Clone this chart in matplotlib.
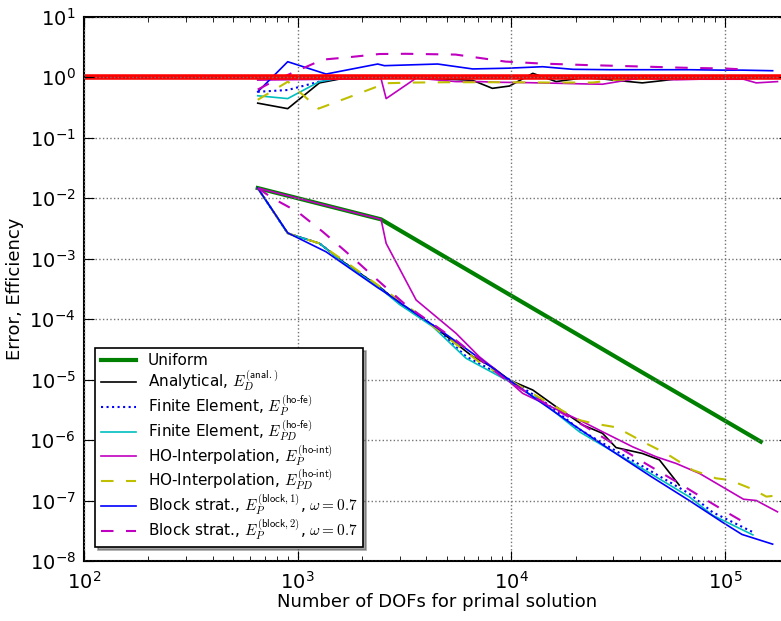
import numpy as np
import matplotlib
matplotlib.use("Agg")
import matplotlib.pyplot as plt

plt.rcParams["mathtext.fontset"] = "cm"
plt.rcParams["font.family"] = "DejaVu Sans"

# Uniform refinement
dofs_uni = [650, 2455, 9600, 37900, 147000]
err_uni = [1.46e-2, 4.44e-3, 2.64e-4, 1.54e-5, 9.4e-7]

# Analytical estimator (dual)
dofs_anal = [650, 898, 1264, 1630, 2410, 2990, 4285, 6590, 8150, 9800, 12600,
             16200, 21600, 26700, 30900, 41000, 49300, 61000]
err_anal = [1.46e-2, 2.61e-3, 1.78e-3, 8.85e-4, 3.42e-4, 1.82e-4, 7.8e-5, 2.4e-5,
            1.6e-5, 9.8e-6, 6.7e-6, 3.55e-6, 1.77e-6, 1.29e-6, 7.5e-7, 6.0e-7,
            4.7e-7, 1.8e-7]
eff_anal = [0.37, 0.30, 0.80, 0.95, 0.96, 0.96, 0.95, 0.88, 0.65, 0.71, 1.15,
            0.84, 0.97, 0.93, 0.88, 0.80, 0.86, 0.94]

# Finite element estimators (primal / primal-dual)
dofs_fe = [650, 898, 1264, 1630, 2410, 2990, 4285, 6140, 9800, 14000, 20800,
           30000, 44000, 68000, 87500, 135000]
err_fe_p = [1.46e-2, 2.61e-3, 1.78e-3, 8.8e-4, 3.4e-4, 1.8e-4, 7.9e-5, 2.4e-5,
            1.0e-5, 4.5e-6, 1.5e-6, 7.0e-7, 3.2e-7, 1.3e-7, 6.4e-8, 3.0e-8]
eff_fe_p = [0.57, 0.61, 0.84, 0.97, 0.98, 0.99, 0.98, 0.99, 0.98, 0.99, 0.99,
            1.0, 0.99, 0.99, 1.0, 0.99]
err_fe_pd = [1.46e-2, 2.61e-3, 1.78e-3, 8.6e-4, 3.3e-4, 1.75e-4, 7.5e-5, 2.24e-5,
             9.2e-6, 4.2e-6, 1.37e-6, 6.4e-7, 2.9e-7, 1.15e-7, 5.7e-8, 2.7e-8]
eff_fe_pd = [0.49, 0.44, 0.84, 0.98, 0.99, 1.0, 1.0, 0.99, 1.0, 1.0, 1.0,
             1.0, 1.0, 1.0, 1.0, 1.0]

# Higher-order interpolation, primal
dofs_hoi_p = [650, 2455, 2594, 3584, 5510, 7080, 8470, 11300, 16000, 21600, 26700,
              37000, 47500, 59000, 76000, 122000, 140000, 176000]
err_hoi_p = [1.46e-2, 4.44e-3, 1.78e-3, 2.06e-4, 5.8e-5, 2.38e-5, 1.44e-5, 5.9e-6,
             3.3e-6, 2.0e-6, 1.37e-6, 7.7e-7, 5.3e-7, 4.1e-7, 2.8e-7, 1.05e-7,
             1.0e-7, 6.5e-8]
eff_hoi_p = [0.89, 0.94, 0.44, 0.96, 0.84, 0.84, 0.82, 0.81, 0.79, 0.77, 0.76,
             0.92, 0.93, 0.90, 0.92, 0.92, 0.80, 0.84]

# Higher-order interpolation, primal-dual
dofs_hoi_pd = [650, 900, 1250, 1700, 2590, 3500, 5000, 7000, 9800, 15000, 20800,
               24000, 31000, 42700, 53000, 70500, 90700, 105000, 135000, 156000,
               167000]
err_hoi_pd = [1.46e-2, 2.6e-3, 1.8e-3, 8.5e-4, 2.9e-4, 1.35e-4, 5.0e-5, 2.0e-5,
              9.8e-6, 4.05e-6, 2.14e-6, 1.89e-6, 1.62e-6, 8.8e-7, 6.0e-7, 3.19e-7,
              2.33e-7, 2.18e-7, 1.53e-7, 1.16e-7, 1.19e-7]
eff_hoi_pd = [0.42, 0.84, 0.30, 0.45, 0.79, 0.81, 0.82, 0.82, 0.82, 0.81, 0.81,
              0.81, 0.90, 0.93, 0.95, 0.96, 0.95, 0.96, 0.97, 0.96, 0.96]

# Block strategy 1
dofs_blk1 = [650, 898, 1358, 2368, 2546, 4520, 6590, 9690, 14000, 19400, 29000,
             45000, 68000, 97000, 120000, 167000]
err_blk1 = [1.46e-2, 2.65e-3, 1.29e-3, 3.3e-4, 2.8e-4, 7.0e-5, 2.7e-5, 1.0e-5,
            4.0e-6, 1.8e-6, 6.9e-7, 2.5e-7, 1.0e-7, 4.4e-8, 2.75e-8, 1.9e-8]
eff_blk1 = [0.57, 1.79, 1.12, 1.64, 1.54, 1.64, 1.36, 1.40, 1.48, 1.34, 1.32,
            1.32, 1.32, 1.30, 1.30, 1.27]

# Block strategy 2
dofs_blk2 = [650, 764, 1000, 1310, 1680, 2410, 3210, 5480, 9380, 13800, 22000,
             41000, 61000, 73000, 101000, 125000]
err_blk2 = [1.46e-2, 9.9e-3, 5.9e-3, 2.77e-3, 1.3e-3, 4.14e-4, 1.7e-4, 4.5e-5,
            1.0e-5, 4.4e-6, 1.7e-6, 4.4e-7, 1.92e-7, 1.3e-7, 6.5e-8, 4.2e-8]
eff_blk2 = [0.62, 0.84, 1.28, 1.94, 2.1, 2.4, 2.42, 2.35, 1.8, 1.67, 1.58,
            1.49, 1.43, 1.41, 1.38, 1.33]

fig = plt.figure(figsize=(7.81, 6.21), dpi=100)
ax = fig.add_axes([0.1076, 0.0966, 0.9031, 0.8768])

lw = 1.2
ax.loglog(dofs_uni, err_uni, color="g", lw=3, label="Uniform")
ax.loglog(dofs_anal, err_anal, "k-", lw=lw,
          label=r"Analytical, $E_D^{(\mathsf{anal.})}$")
ax.loglog(dofs_fe, err_fe_p, "b:", lw=lw + 0.3,
          label=r"Finite Element, $E_P^{(\mathsf{ho\text{-}fe})}$")
ax.loglog(dofs_fe, err_fe_pd, "c-", lw=lw,
          label=r"Finite Element, $E_{PD}^{(\mathsf{ho\text{-}fe})}$")
ax.loglog(dofs_hoi_p, err_hoi_p, "m-", lw=lw,
          label=r"HO-Interpolation, $E_P^{(\mathsf{ho\text{-}int})}$")
ax.loglog(dofs_hoi_pd, err_hoi_pd, "y--", lw=lw + 0.3, dashes=(6, 6),
          label=r"HO-Interpolation, $E_{PD}^{(\mathsf{ho\text{-}int})}$")
ax.loglog(dofs_blk1, err_blk1, "b-", lw=lw,
          label=r"Block strat., $E_P^{(\mathsf{block,1})}$, $\omega=0.7$")
ax.loglog(dofs_blk2, err_blk2, "m--", lw=lw + 0.3, dashes=(6, 6),
          label=r"Block strat., $E_P^{(\mathsf{block,2})}$, $\omega=0.7$")

# efficiency indices
ax.loglog(dofs_anal, eff_anal, "k-", lw=lw)
ax.loglog(dofs_fe, eff_fe_p, "b:", lw=lw + 0.3)
ax.loglog(dofs_fe, eff_fe_pd, "c-", lw=lw)
ax.loglog(dofs_hoi_p, eff_hoi_p, "m-", lw=lw)
ax.loglog(dofs_hoi_pd, eff_hoi_pd, "y--", lw=lw + 0.3, dashes=(6, 6))
ax.loglog(dofs_blk1, eff_blk1, "b-", lw=lw)
ax.loglog(dofs_blk2, eff_blk2, "m--", lw=lw + 0.3, dashes=(6, 6))
ax.axhline(1.0, color="r", lw=4, zorder=2.2)

ax.set_xlim(1e2, 2e5)
ax.set_ylim(1e-8, 1e1)
ax.set_axisbelow(False)
ax.grid(True, which="major", color="0.45", ls=":", lw=1.0)
ax.tick_params(which="both", direction="in", top=True, right=True, labelsize=14)
ax.tick_params(which="major", length=7)
ax.tick_params(which="minor", length=3.5)
ax.tick_params(axis="x", pad=7)
ax.tick_params(axis="y", pad=6)
ax.set_yticks([10.0 ** k for k in range(-8, 2)])
ax.set_xlabel("Number of DOFs for primal solution", fontsize=13, labelpad=0)
ax.set_ylabel("Error, Efficiency", fontsize=13, labelpad=4)
for sp in ax.spines.values():
    sp.set_linewidth(1.5)

leg = ax.legend(loc="lower left", bbox_to_anchor=(0.016, 0.025), borderaxespad=0,
                fontsize=11, fancybox=False, shadow=True, labelspacing=0.0,
                handlelength=2.3, borderpad=0.35)
leg.get_frame().set_edgecolor("k")
leg.get_frame().set_linewidth(1.2)

fig.savefig("out.png", dpi=100)
